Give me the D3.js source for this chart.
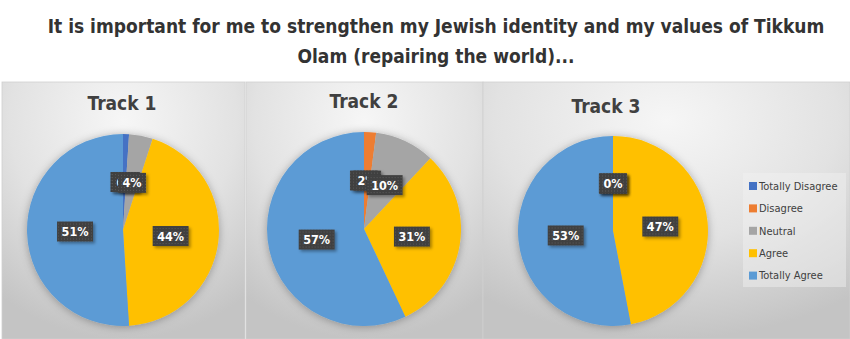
<!DOCTYPE html>
<html>
<head>
<meta charset="utf-8">
<script src="https://cdn.jsdelivr.net/npm/d3@7"></script>
<style>
  body { margin: 0; background: #ffffff; }
  svg { display: block; }
</style>
</head>
<body>
<svg id="chart" width="850" height="339"></svg>
<script>
// chart data
const categories = ['Totally Disagree', 'Disagree', 'Neutral', 'Agree', 'Totally Agree'];
const trackNames = ['Track 1', 'Track 2', 'Track 3'];
const track1Values = [1, 0, 4, 44, 51];
const track2Values = [0, 2, 10, 31, 57];
const track3Values = [0, 0, 0, 47, 53];
const sliceColors = ['#4472C4', '#ED7D31', '#A5A5A5', '#FFC000', '#5B9BD5'];
const titleLines = [
  'It is important for me to strengthen my Jewish identity and my values of Tikkum',
  'Olam (repairing the world)...'
];

const FONT = "'DejaVu Sans Condensed', 'Open Sans', sans-serif";

// layout of the three chart boxes
const panels = [
  { name: trackNames[0], values: track1Values, x0: 2, x1: 245, cx: 123, cy: 230, r: 96, tx: 122, ty: 110 },
  { name: trackNames[1], values: track2Values, x0: 246, x1: 483, cx: 364, cy: 229, r: 97, tx: 364, ty: 108 },
  { name: trackNames[2], values: track3Values, x0: 483, x1: 850, cx: 613, cy: 231, r: 95, tx: 606, ty: 113 },
];

const svg = d3.select('#chart');
const defs = svg.append('defs');

const grad = defs.append('radialGradient')
  .attr('id', 'panelBg')
  .attr('cx', '50%').attr('cy', '15%').attr('r', '85%');
grad.append('stop').attr('offset', '0%').attr('stop-color', '#f6f6f6');
grad.append('stop').attr('offset', '55%').attr('stop-color', '#e2e2e2');
grad.append('stop').attr('offset', '100%').attr('stop-color', '#c4c4c4');

const pieShadow = defs.append('filter').attr('id', 'pieShadow')
  .attr('x', '-20%').attr('y', '-20%').attr('width', '140%').attr('height', '140%');
pieShadow.append('feDropShadow')
  .attr('dx', 0).attr('dy', 1).attr('stdDeviation', 4)
  .attr('flood-color', '#000').attr('flood-opacity', 0.3);

const labelShadow = defs.append('filter').attr('id', 'labelShadow')
  .attr('x', '-30%').attr('y', '-30%').attr('width', '160%').attr('height', '160%');
labelShadow.append('feDropShadow')
  .attr('dx', 2).attr('dy', 2).attr('stdDeviation', 1.5)
  .attr('flood-color', '#000').attr('flood-opacity', 0.35);

const dots = defs.append('pattern').attr('id', 'dots')
  .attr('width', 3).attr('height', 3).attr('patternUnits', 'userSpaceOnUse');
dots.append('rect').attr('width', 3).attr('height', 3).attr('fill', '#404040');
dots.append('rect').attr('x', 1).attr('y', 1).attr('width', 1).attr('height', 1).attr('fill', '#5a5a5a');

// title
svg.append('g')
  .selectAll('text')
  .data(titleLines)
  .join('text')
  .attr('x', 436)
  .attr('y', (d, i) => 33 + i * 30)
  .attr('text-anchor', 'middle')
  .attr('font-family', FONT)
  .attr('font-weight', 'bold')
  .attr('font-size', 19)
  .attr('fill', '#333333')
  .text((d) => d);

const pie = d3.pie().sort(null).value((d) => d);
const fmt = (v) => `${v}%`;

panels.forEach((p) => {
  const g = svg.append('g');

  g.append('rect')
    .attr('x', p.x0).attr('y', 82)
    .attr('width', p.x1 - p.x0).attr('height', 339 - 82)
    .attr('fill', 'url(#panelBg)')
    .attr('stroke', '#cfcfcf').attr('stroke-width', 0.8);

  g.append('text')
    .attr('x', p.tx).attr('y', p.ty)
    .attr('text-anchor', 'middle')
    .attr('font-family', FONT)
    .attr('font-weight', 'bold')
    .attr('font-size', 19)
    .attr('fill', '#404040')
    .text(p.name);

  const arcs = pie(p.values);
  const arc = d3.arc().innerRadius(0).outerRadius(p.r);

  g.append('g')
    .attr('transform', `translate(${p.cx},${p.cy})`)
    .attr('filter', 'url(#pieShadow)')
    .selectAll('path')
    .data(arcs)
    .join('path')
    .attr('d', arc)
    .attr('fill', (d, i) => sliceColors[i]);

  const labels = g.append('g')
    .attr('transform', `translate(${p.cx},${p.cy})`)
    .selectAll('g')
    .data(arcs)
    .join('g')
    .attr('transform', (d) => `translate(${arc.centroid(d)})`);

  labels.append('rect').attr('class', 'box')
    .attr('fill', 'url(#dots)')
    .attr('filter', 'url(#labelShadow)');

  labels.append('text')
    .attr('text-anchor', 'middle')
    .attr('dy', '0.36em')
    .attr('font-family', FONT)
    .attr('font-weight', 'bold')
    .attr('font-size', 12.5)
    .attr('fill', '#ffffff')
    .text((d) => fmt(d.data));

  labels.each(function () {
    const w = d3.select(this).select('text').node().getComputedTextLength() + 9;
    d3.select(this).select('rect')
      .attr('x', -w / 2).attr('y', -10)
      .attr('width', w).attr('height', 20);
  });
});

// legend
const legend = svg.append('g').attr('transform', 'translate(743,173)');
legend.append('rect')
  .attr('width', 103).attr('height', 114)
  .attr('fill', '#f2f2f2').attr('fill-opacity', 0.45);

const items = legend.selectAll('g.item')
  .data(categories)
  .join('g')
  .attr('class', 'item')
  .attr('transform', (d, i) => `translate(6,${13 + i * 22.4})`);

items.append('rect')
  .attr('x', 0).attr('y', -4)
  .attr('width', 8).attr('height', 8)
  .attr('fill', (d, i) => sliceColors[i]);

items.append('text')
  .attr('x', 10).attr('dy', '0.35em')
  .attr('font-family', FONT)
  .attr('font-size', 11)
  .attr('fill', '#404040')
  .text((d) => d);
</script>
</body>
</html>
